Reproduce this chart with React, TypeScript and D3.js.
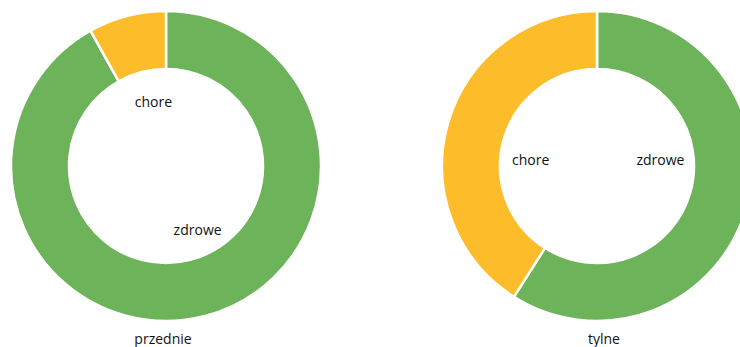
import React from "react";
import * as d3 from "d3";

const categories = ["zdrowe", "chore"];
const chartTitles = ["przednie", "tylne"];
const przednieValues = [91.9, 8.1];
const tylneValues = [59.0, 41.0];

const COLORS = ["#6DB35A", "#FDBD2B"];
const W = 740;
const H = 347;
const OUTER = 155;
const INNER = 97;
const LABEL_R = 66;

const charts = [
  { title: chartTitles[0], values: przednieValues, cx: 166, cy: 166, titleX: 163, nudge: [[15, 0], [4, 0]] },
  { title: chartTitles[1], values: tylneValues, cx: 597, cy: 166, titleX: 604, nudge: [[0, -24], [-3, 12]] },
];

function Donut({ c }: { c: (typeof charts)[number] }) {
  const pie = d3.pie<number>().sort(null).value((d) => d).startAngle(0).endAngle(2 * Math.PI);
  const arcs = pie(c.values);
  const arc = d3.arc<d3.PieArcDatum<number>>().innerRadius(INNER).outerRadius(OUTER);
  const labelArc = d3.arc<d3.PieArcDatum<number>>().innerRadius(LABEL_R).outerRadius(LABEL_R);
  return (
    <g>
      <g transform={`translate(${c.cx},${c.cy})`}>
        {arcs.map((a, i) => (
          <path key={i} d={arc(a) || ""} fill={COLORS[i]} stroke="#fff" strokeWidth={2.5} />
        ))}
        {arcs.map((a, i) => {
          const [x, y] = labelArc.centroid(a);
          return (
            <text
              key={"l" + i}
              x={x + c.nudge[i][0]}
              y={y + c.nudge[i][1]}
              dy="0.35em"
              textAnchor="middle"
              fontFamily="'Open Sans', sans-serif"
              fontSize={14}
              fill="#111"
            >
              {categories[i]}
            </text>
          );
        })}
      </g>
      <text x={c.titleX} y={344} textAnchor="middle" fontFamily="'Open Sans', sans-serif" fontSize={14} fill="#111">
        {c.title}
      </text>
    </g>
  );
}

export default function App() {
  return (
    <svg width={W} height={H} style={{ position: "absolute", left: 0, top: 0, background: "#fff" }}>
      {charts.map((c, i) => (
        <Donut key={i} c={c} />
      ))}
    </svg>
  );
}
